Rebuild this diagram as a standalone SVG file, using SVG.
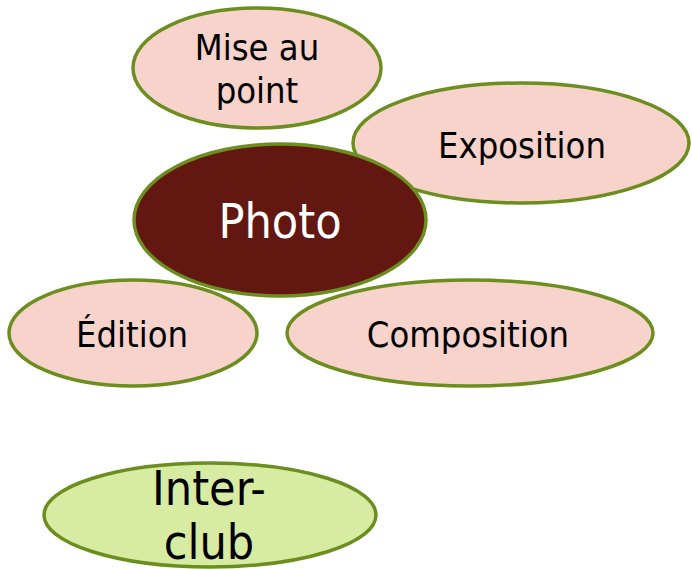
<svg xmlns="http://www.w3.org/2000/svg" width="692" height="569" viewBox="0 0 692 569">
<style>
.n{fill:#f8d3cc;stroke:#6b8e1f;stroke-width:3.5}
.c{fill:#621810;stroke:#6b8e1f;stroke-width:3.5}
.g{fill:#d7eba3;stroke:#6b8e1f;stroke-width:3.5}
text{font-family:"DejaVu Sans Condensed","DejaVu Sans","Open Sans",sans-serif;font-stretch:condensed;text-anchor:middle;fill:#000}
.s{font-size:36px}
.b{font-size:48px}
.w{fill:#ffffff}
</style>
<g id="connectors"></g>
<g id="mise-au-point">
<ellipse class="n" cx="257" cy="68" rx="124" ry="60"/>
<text class="s" x="257" y="60">Mise au</text>
<text class="s" x="257" y="103">point</text>
</g>
<g id="exposition">
<ellipse class="n" cx="521" cy="143" rx="168" ry="60"/>
<text class="s" x="522" y="158">Exposition</text>
</g>
<g id="edition">
<ellipse class="n" cx="133" cy="333" rx="124" ry="53"/>
<text class="s" x="132" y="347">Édition</text>
</g>
<g id="composition">
<ellipse class="n" cx="470" cy="333" rx="183" ry="53"/>
<text class="s" x="468" y="347">Composition</text>
</g>
<g id="photo">
<ellipse class="c" cx="280" cy="220" rx="146" ry="76"/>
<text class="b w" x="280" y="238">Photo</text>
</g>
<g id="inter-club">
<ellipse class="g" cx="210" cy="515" rx="166" ry="52"/>
<text class="b" x="209" y="505">Inter-</text>
<text class="b" x="209" y="559">club</text>
</g>
</svg>
